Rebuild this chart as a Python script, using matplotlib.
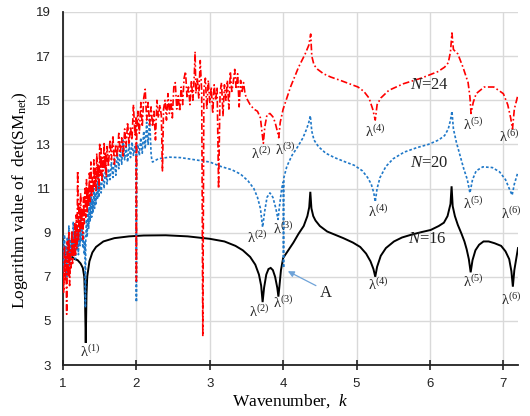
import matplotlib
matplotlib.use("Agg")
import matplotlib.pyplot as plt

plt.rcParams["mathtext.fontset"] = "custom"
plt.rcParams["mathtext.rm"] = "Liberation Serif"
plt.rcParams["mathtext.it"] = "Liberation Serif:italic"
plt.rcParams["mathtext.bf"] = "Liberation Serif:bold"

# ---------------- N = 16 (solid black) ----------------
k16 = [1.00, 1.04, 1.08, 1.12, 1.16, 1.20, 1.24, 1.27, 1.29, 1.30, 1.31, 1.32, 1.33,
       1.36, 1.40, 1.45, 1.55, 1.70, 1.90, 2.10, 2.40, 2.70, 3.00, 3.20, 3.35, 3.45,
       3.55, 3.62, 3.67, 3.70, 3.72, 3.74, 3.77, 3.80, 3.83, 3.86, 3.89, 3.92, 3.935,
       3.95, 3.97, 4.00, 4.07, 4.14, 4.21, 4.28, 4.33, 4.355, 4.37, 4.385, 4.41, 4.44,
       4.50, 4.60, 4.71, 4.82, 4.95, 5.05, 5.13, 5.19, 5.23, 5.255, 5.28, 5.33, 5.40,
       5.51, 5.62, 5.74, 5.88, 6.01, 6.12, 6.19, 6.24, 6.28, 6.295, 6.31, 6.34, 6.38,
       6.43, 6.47, 6.50, 6.53, 6.555, 6.58, 6.62, 6.67, 6.73, 6.80, 6.88, 6.97, 7.03,
       7.08, 7.11, 7.13, 7.15, 7.18, 7.20]
v16 = [8.3, 8.0, 8.2, 7.9, 7.8, 7.75, 7.6, 7.4, 7.0, 6.0, 4.0, 6.2, 7.0,
       7.7, 8.1, 8.35, 8.6, 8.75, 8.83, 8.87, 8.88, 8.83, 8.72, 8.6, 8.4, 8.2,
       7.9, 7.55, 7.1, 6.6, 5.85, 6.5, 7.1, 7.35, 7.4, 7.3, 7.0, 6.5, 6.1,
       6.6, 7.3, 7.85, 8.2, 8.55, 8.95, 9.3, 9.75, 10.15, 10.85, 10.1, 9.75, 9.55,
       9.3, 9.05, 8.9, 8.75, 8.55, 8.35, 8.05, 7.7, 7.35, 7.0, 7.45, 7.95, 8.3,
       8.6, 8.78, 8.9, 9.02, 9.12, 9.3, 9.45, 9.75, 10.3, 11.1, 10.2, 9.75, 9.35,
       8.95, 8.6, 8.25, 7.8, 7.2, 7.75, 8.2, 8.45, 8.6, 8.6, 8.52, 8.4, 8.15,
       7.8, 7.25, 6.55, 7.3, 7.9, 8.3]

# ---------------- N = 20 (blue dashed) ----------------
k20 = [1.00, 1.01, 1.02, 1.03, 1.04, 1.05, 1.06, 1.07, 1.08, 1.09, 1.10, 1.11, 1.12,
       1.13, 1.14, 1.15, 1.16, 1.17, 1.18, 1.19, 1.20, 1.21, 1.22, 1.23, 1.24, 1.25,
       1.26, 1.27, 1.28, 1.29, 1.30, 1.305, 1.31, 1.32, 1.33, 1.34, 1.35, 1.36, 1.37,
       1.38, 1.39, 1.40, 1.41, 1.42, 1.43, 1.44, 1.45, 1.46, 1.47, 1.48, 1.49, 1.50,
       1.52, 1.54, 1.56, 1.58, 1.60, 1.62, 1.64, 1.66, 1.68, 1.70, 1.72, 1.74, 1.76,
       1.78, 1.80, 1.82, 1.84, 1.86, 1.88, 1.90, 1.92, 1.94, 1.96, 1.98, 1.995, 2.00,
       2.005, 2.02, 2.04, 2.06, 2.08, 2.10, 2.12, 2.14, 2.16, 2.18, 2.20, 2.21,
       2.22, 2.30, 2.45, 2.60, 2.80, 3.00, 3.15, 3.30, 3.42, 3.52, 3.60, 3.65, 3.69,
       3.72, 3.75, 3.78, 3.82, 3.86, 3.90, 3.93, 3.95, 3.98, 4.00, 4.005, 4.01, 4.05,
       4.12, 4.20, 4.27, 4.32, 4.35, 4.37, 4.39, 4.42, 4.48, 4.58, 4.70, 4.85, 4.97,
       5.08, 5.15, 5.20, 5.235, 5.255, 5.28, 5.32, 5.40, 5.50, 5.65, 5.82, 5.98, 6.12,
       6.20, 6.25, 6.28, 6.30, 6.32, 6.36, 6.41, 6.46, 6.51, 6.545, 6.58, 6.63, 6.72,
       6.85, 6.95, 7.03, 7.08, 7.12, 7.15, 7.20]
v20 = [8.6, 7.2, 8.9, 7.6, 8.4, 7.0, 8.8, 7.8, 9.3, 7.5, 8.7, 7.9, 9.0,
       8.1, 9.5, 8.3, 8.9, 7.8, 9.2, 8.2, 9.1, 8.0, 9.4, 8.4, 9.7, 8.6,
       9.3, 8.3, 9.0, 8.0, 8.6, 5.6, 8.7, 9.6, 8.8, 10.1, 9.2, 10.4, 9.5,
       10.8, 9.7, 10.5, 9.9, 11.0, 10.1, 10.8, 10.3, 11.2, 10.5, 11.5, 10.6, 11.3,
       10.8, 11.7, 11.0, 12.0, 11.2, 11.9, 11.4, 12.2, 11.5, 12.4, 11.6, 12.6, 11.9,
       12.8, 12.1, 13.2, 12.3, 12.9, 12.2, 13.0, 12.4, 13.1, 12.5, 12.9, 12.6, 5.85,
       12.7, 13.0, 12.5, 13.3, 12.6, 13.6, 12.8, 14.0, 13.0, 14.2, 12.6, 12.3,
       12.2, 12.35, 12.42, 12.4, 12.3, 12.2, 12.0, 11.85, 11.65, 11.35, 11.0, 10.6, 10.1,
       9.25, 10.0, 10.6, 10.8, 10.6, 10.1, 9.6, 10.2, 11.0, 11.3, 7.4, 11.5, 12.0,
       12.5, 12.9, 13.3, 13.7, 14.0, 14.3, 13.6, 13.2, 12.9, 12.6, 12.4, 12.2, 12.05,
       11.8, 11.5, 11.2, 10.8, 10.4, 11.0, 11.5, 12.0, 12.35, 12.65, 12.85, 13.0, 13.2,
       13.4, 13.7, 14.1, 14.5, 13.7, 13.1, 12.5, 11.9, 11.4, 10.8, 11.4, 11.8, 11.98,
       11.95, 11.75, 11.4, 11.0, 10.7, 11.2, 11.75]

# ---------------- N = 24 (red dash-dot) ----------------
k24 = [1.00, 1.01, 1.02, 1.03, 1.04, 1.05, 1.06, 1.07, 1.08, 1.09, 1.10, 1.11, 1.12,
       1.13, 1.14, 1.15, 1.16, 1.17, 1.18, 1.19, 1.20, 1.21, 1.22, 1.23, 1.24, 1.25,
       1.26, 1.27, 1.28, 1.29, 1.30, 1.31, 1.32, 1.33, 1.34, 1.35, 1.36, 1.37, 1.38,
       1.39, 1.40, 1.41, 1.42, 1.43, 1.44, 1.45, 1.46, 1.47, 1.48, 1.49, 1.50, 1.51,
       1.52, 1.53, 1.54, 1.55, 1.56, 1.57, 1.58, 1.59, 1.60, 1.62, 1.64, 1.66, 1.68,
       1.70, 1.72, 1.74, 1.76, 1.78, 1.80, 1.82, 1.84, 1.86, 1.88, 1.90, 1.92, 1.94,
       1.96, 1.98, 1.995, 2.00, 2.005, 2.02, 2.04, 2.06, 2.08, 2.10, 2.12, 2.14, 2.16,
       2.18, 2.20, 2.22, 2.24, 2.26, 2.28, 2.30, 2.32, 2.34, 2.355, 2.37, 2.39, 2.41,
       2.43, 2.45, 2.47, 2.49, 2.51, 2.53, 2.55, 2.57, 2.59, 2.61, 2.63, 2.65, 2.67,
       2.69, 2.71, 2.73, 2.75, 2.77, 2.79, 2.80, 2.81, 2.83, 2.85, 2.87, 2.89, 2.905,
       2.92, 2.94, 2.96, 2.98, 3.00, 3.02, 3.04, 3.06, 3.08, 3.10, 3.12, 3.14, 3.16,
       3.18, 3.20, 3.22, 3.24, 3.26, 3.28, 3.30, 3.32, 3.34, 3.36, 3.38, 3.40, 3.42,
       3.44, 3.46, 3.48,
       3.50, 3.55, 3.60, 3.65, 3.69, 3.71, 3.73, 3.75, 3.78, 3.82, 3.86, 3.89, 3.92,
       3.94, 3.96, 4.00, 4.10, 4.21, 4.30, 4.35, 4.375, 4.39, 4.42, 4.47, 4.55, 4.65,
       4.78, 4.90, 5.02, 5.10, 5.17, 5.22, 5.255, 5.28, 5.33, 5.44, 5.64, 5.88, 6.11,
       6.20, 6.25, 6.28, 6.30, 6.32, 6.38, 6.45, 6.52, 6.545, 6.56, 6.59, 6.63, 6.74,
       6.87, 7.00, 7.06, 7.10, 7.125, 7.15, 7.20]
v24 = [7.2, 6.3, 8.4, 6.8, 7.9, 5.3, 8.6, 7.0, 9.0, 6.6, 8.2, 7.4, 9.1,
       7.6, 8.7, 7.9, 9.4, 8.0, 9.8, 8.3, 11.8, 8.6, 10.3, 9.0, 10.8, 9.2,
       10.1, 8.7, 10.6, 9.4, 11.0, 9.7, 11.4, 9.9, 11.0, 10.2, 11.7, 10.4, 12.2,
       10.6, 11.5, 10.8, 12.3, 11.1, 11.9, 10.9, 12.6, 11.4, 12.1, 11.0, 13.0, 11.6,
       12.8, 11.3, 12.4, 11.8, 13.1, 11.9, 12.6, 11.5, 12.9, 12.0, 13.2, 12.3, 13.4,
       12.1, 13.0, 12.4, 13.5, 12.6, 13.3, 12.4, 13.7, 12.9, 14.0, 13.0, 13.8, 13.2,
       14.8, 13.4, 14.2, 6.8, 13.6, 14.5, 13.5, 14.9, 13.8, 15.1, 15.5, 14.1, 14.9,
       13.9, 14.7, 13.8, 14.5, 13.2, 15.0, 14.2, 14.8, 14.3, 11.8, 14.6, 15.0, 14.1,
       15.3, 14.4, 15.0, 14.2, 15.6, 15.8, 14.6, 15.2, 14.5, 15.6, 14.8, 16.0, 16.3,
       15.1, 15.6, 14.8, 15.9, 15.0, 16.2, 17.2, 15.3, 16.0, 15.1, 16.8, 15.4, 4.3,
       15.5, 16.0, 14.6, 15.9, 14.9, 15.6, 14.4, 15.7, 15.0, 15.6, 11.0, 15.3, 15.8,
       14.3, 15.7, 15.0, 15.9, 14.6, 16.3, 15.4, 15.8, 16.4, 15.5, 16.2, 14.7, 15.9,
       15.4, 15.8, 15.3,
       15.1, 14.8, 14.6, 14.5, 14.2, 13.6, 13.05, 13.8, 14.35, 14.4, 14.25, 14.0, 13.6,
       13.3, 14.0, 14.6, 15.6, 16.5, 17.1, 17.5, 18.0, 17.0, 16.6, 16.4, 16.2, 16.05,
       15.9, 15.75, 15.6, 15.4, 15.1, 14.6, 14.1, 14.8, 15.1, 15.45, 15.75, 16.0, 16.3,
       16.5, 16.7, 17.2, 18.05, 17.3, 17.1, 16.5, 15.8, 15.15, 14.4, 14.9, 15.3, 15.6,
       15.6, 15.3, 14.8, 14.2, 13.7, 14.6, 15.25]

x_ticks = [1, 2, 3, 4, 5, 6, 7]
y_ticks = [3, 5, 7, 9, 11, 13, 15, 17, 19]

# eigenvalue markers: (text, k, value)
labels_16 = [("λ$^{(1)}$", 1.37, 3.59), ("λ$^{(2)}$", 3.67, 5.40), ("λ$^{(3)}$", 4.00, 5.81),
             ("λ$^{(4)}$", 5.29, 6.63), ("λ$^{(5)}$", 6.59, 6.76), ("λ$^{(6)}$", 7.11, 5.95)]
labels_20 = [("λ$^{(2)}$", 3.65, 8.76), ("λ$^{(3)}$", 4.00, 9.17), ("λ$^{(4)}$", 5.29, 9.94),
             ("λ$^{(5)}$", 6.59, 10.30), ("λ$^{(6)}$", 7.11, 9.85)]
labels_24 = [("λ$^{(2)}$", 3.70, 12.56), ("λ$^{(3)}$", 4.03, 12.75), ("λ$^{(4)}$", 5.26, 13.56),
             ("λ$^{(5)}$", 6.59, 13.88), ("λ$^{(6)}$", 7.08, 13.34)]
n_labels = [("$N$=16", 5.96, 8.71), ("$N$=20", 5.99, 12.16), ("$N$=24", 6.00, 15.69)]

fig = plt.figure(figsize=(5.3, 4.16), dpi=100)
ax = fig.add_axes([63 / 530, 1 - 365 / 416, (518 - 63) / 530, (365 - 12) / 416])

ax.set_xlim(1, 7.2)
ax.set_ylim(3, 19)
ax.set_xticks(x_ticks)
ax.set_yticks(y_ticks)
ax.grid(True, color="#d9d9d9", lw=1.0)
ax.set_axisbelow(True)

ax.plot(k16, v16, color="black", lw=1.4, solid_joinstyle="miter", zorder=3)
ax.plot(k20, v20, color="#1f78c8", lw=1.2, dashes=(1.6, 1.2), zorder=4)
ax.plot(k24, v24, color="#ff0000", lw=1.2, dashes=(4, 1.5, 1, 1.5), zorder=5)

for spine in ("top", "right"):
    ax.spines[spine].set_visible(False)
for spine in ("left", "bottom"):
    ax.spines[spine].set_color("#222222")
    ax.spines[spine].set_linewidth(1.3)

ax.tick_params(axis="x", direction="inout", length=7, width=1.2, color="#222222",
               labelsize=9.5, pad=6)
ax.tick_params(axis="y", length=0, labelsize=9.5, pad=9)
for lab in ax.get_xticklabels() + ax.get_yticklabels():
    lab.set_fontfamily("Liberation Sans")
    lab.set_color("#222222")

serif = "Liberation Serif"
ax.set_xlabel("Wavenumber,  $k$", fontsize=12.5, fontfamily=serif)
ax.set_ylabel("Logarithm value of  det(SM$_{\\mathrm{net}}$)", fontsize=12.5, fontfamily=serif)
ax.xaxis.set_label_coords(0.5, -0.078)
ax.yaxis.set_label_coords(-0.072, 0.467)

for group in (labels_16, labels_20, labels_24):
    for txt, kx, vy in group:
        ax.text(kx, vy, txt, fontsize=10.5, fontfamily=serif, ha="center", va="center",
                color="#222222", zorder=6)
for txt, kx, vy in n_labels:
    ax.text(kx, vy, txt, fontsize=12, fontfamily=serif, ha="center", va="center",
            color="#222222", zorder=6)

ax.annotate("", xy=(4.03, 7.31), xytext=(4.48, 6.54),
            arrowprops=dict(arrowstyle="-|>", color="#6fa3d8", lw=0.9, mutation_scale=9),
            zorder=6)
ax.text(4.58, 6.26, "A", fontsize=12, fontfamily=serif, ha="center", va="center",
        color="#222222", zorder=6)

fig.savefig("out.png", dpi=100)
